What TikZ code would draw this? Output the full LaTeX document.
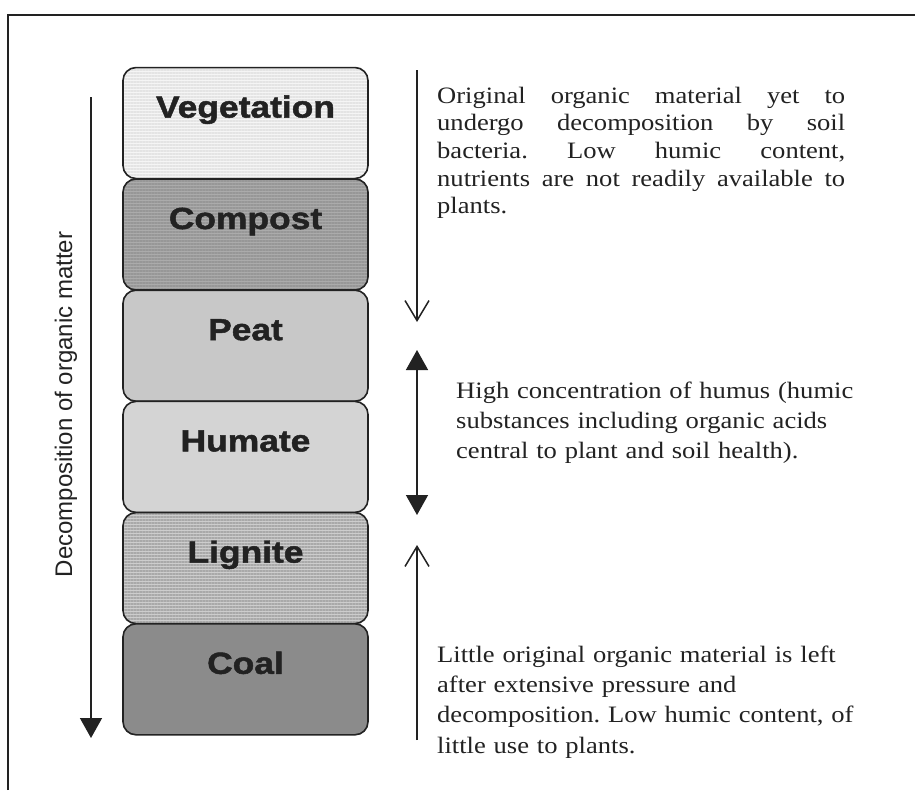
\documentclass[tikz,border=0pt]{standalone}
\usepackage{fontspec}
\setmainfont{Liberation Serif}[FakeStretch=1.13]
\newfontfamily\lblfont{Liberation Sans}[FakeStretch=1.16, FakeBold=1.6]
\newfontfamily\sidefont{Liberation Sans}
\usetikzlibrary{arrows.meta,patterns.meta}
\tolerance=10000
\hbadness=10000
\hyphenpenalty=10000
\frenchspacing
\definecolor{cveg}{HTML}{F5F5F5}
\definecolor{cvegl}{HTML}{E4E4E4}
\definecolor{ccomp}{HTML}{ABABAB}
\definecolor{ccompl}{HTML}{979797}
\definecolor{cpeat}{HTML}{C8C8C8}
\definecolor{chum}{HTML}{D4D4D4}
\definecolor{clig}{HTML}{CDCDCD}
\definecolor{cligl}{HTML}{A9A9A9}
\definecolor{ccoal}{HTML}{8B8B8B}
\definecolor{ink}{HTML}{222222}
\tikzset{
  barbtip/.tip={Straight Barb[length=20pt,width=24pt]},
  tritip/.tip={Triangle[length=20pt,width=22pt]},
}
\begin{document}
\begin{tikzpicture}[x=1pt, y={(0pt,-1pt)},
  layer/.style={draw=ink, line width=1.6pt, rounded corners=13pt,
    minimum width=245pt, inner sep=0pt, text height=50pt, text depth=61pt,
    font=\lblfont\bfseries\fontsize{30.5}{30.5}\selectfont, text=ink, anchor=north},
  striped/.style 2 args={preaction={fill=#1},
    pattern={Lines[angle=0,distance=3pt,line width=1.1pt]}, pattern color=#2},
  desc/.style={inner sep=0pt, anchor=base west, text=ink},
  axisline/.style={line width=1.5pt, draw=ink},
]
\useasboundingbox[fill=white] (0,0) rectangle (915,790);

% frame
\coordinate (fbl) at (8,790);
\coordinate (ftl) at (8,15);
\coordinate (ftr) at (915,15);
\draw[line width=2pt, ink] (fbl) -- (ftl) -- (ftr);

% layers
\node[layer, striped={cveg}{cvegl}]   (veg)  at (245.5,67)    {Vegetation};
\node[layer, striped={ccomp}{ccompl}] (comp) at (245.5,178.2) {Compost};
\node[layer, fill=cpeat] (peat) at (245.5,289.4) {Peat};
\node[layer, fill=chum]  (hum)  at (245.5,400.6) {Humate};
\node[layer, striped={clig}{cligl}]   (lig)  at (245.5,511.8) {Lignite};
\node[layer, fill=ccoal] (coal) at (245.5,623)   {Coal};

% left axis
\coordinate (ltop) at (91,97);
\coordinate (lbot) at (91,738);
\draw[axisline, -tritip] (ltop) -- (lbot);
\node[rotate=90, anchor=base, inner sep=0pt, text=ink,
  font=\sidefont\fontsize{24}{24}\selectfont] (lab) at (72,404.5)
  {Decomposition of organic matter};

% right arrows
\coordinate (r1a) at (417,70);
\coordinate (r1b) at (417,322);
\coordinate (r2a) at (417,350);
\coordinate (r2b) at (417,515);
\coordinate (r3a) at (417,740);
\coordinate (r3b) at (417,545);
\draw[axisline, -barbtip] (r1a) -- (r1b);
\draw[axisline, tritip-tritip] (r2a) -- (r2b);
\draw[axisline, -barbtip] (r3a) -- (r3b);

% descriptions
\node[desc, text width=408pt, align=justify,
  font=\fontsize{23.5}{27.7}\selectfont] (t1) at (437,103)
  {Original organic material yet to\linebreak
   undergo decomposition by soil\linebreak
   bacteria. Low humic content,\linebreak
   nutrients are not readily available to\linebreak
   plants.};
\node[desc, text width=420pt, align=left,
  font=\fontsize{23.5}{30}\selectfont] (t2) at (456,398)
  {High concentration of humus (humic\\
   substances including organic acids\\
   central to plant and soil health).};
\node[desc, text width=440pt, align=left,
  font=\fontsize{23.5}{30.4}\selectfont] (t3) at (437,662)
  {Little original organic material is left\\
   after extensive pressure and\\
   decomposition. Low humic content, of\\
   little use to plants.};
\end{tikzpicture}
\end{document}
